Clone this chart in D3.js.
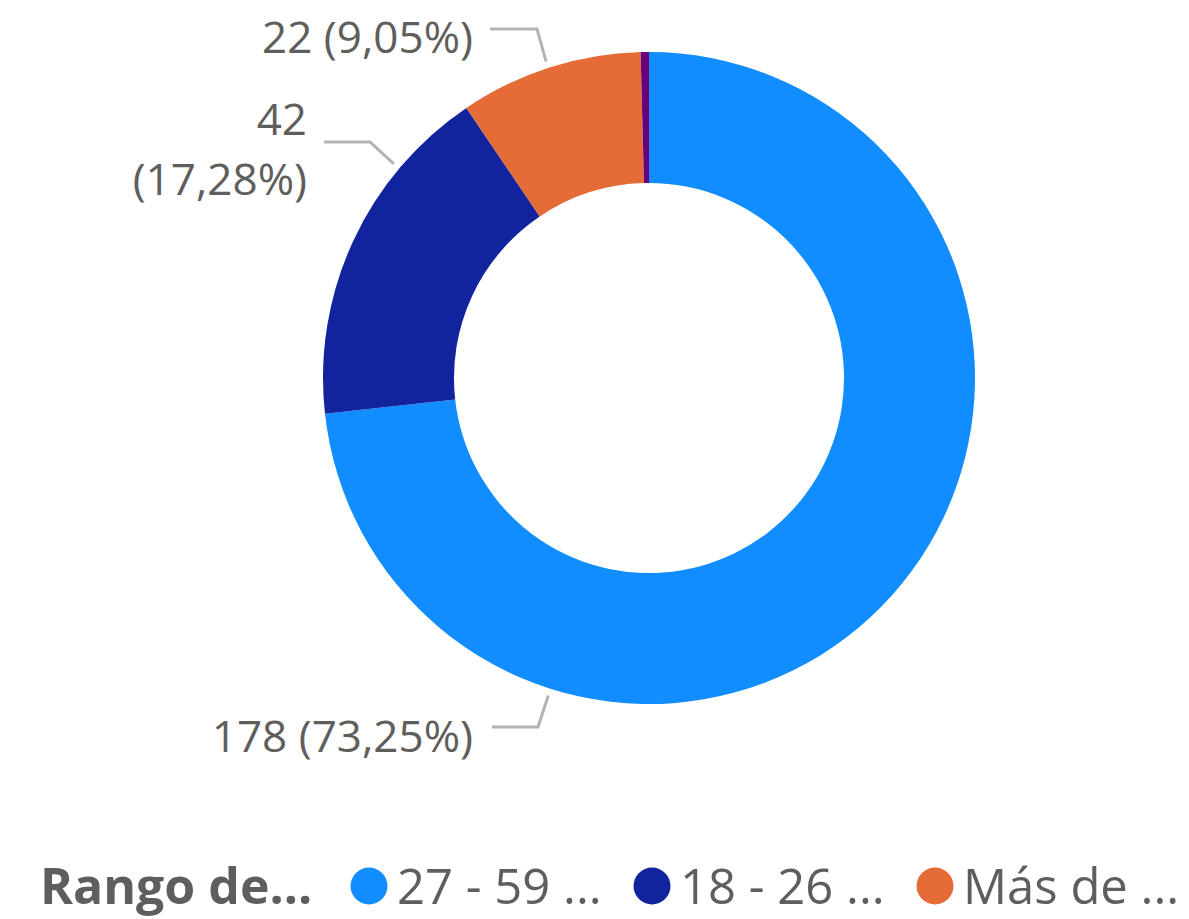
<html>
<head>
<meta charset="utf-8">
<style>
  body { margin: 0; background: #fff; }
  text { font-family: "Open Sans", "Noto Sans", sans-serif; }
</style>
</head>
<body>
<svg width="1189" height="919"></svg>

<script src="https://cdn.jsdelivr.net/npm/d3@7/dist/d3.min.js"></script>
<script type="text/javascript">
// data
const categories = ["27 - 59 ...", "18 - 26 ...", "Más de ...", "Menos de 18"];
const counts = [178, 42, 22, 1];
const colors = ["#118DFF", "#12239E", "#E66C37", "#6B007B"];
const legendTitle = "Rango de...";
const legendShown = [0, 1, 2];

// where each data label goes (layout only)
const labelLayout = [
  {i: 0, angle: 197.6, knee: [538, 727], end: 492, tx: 473, lines: [752], split: false},
  {i: 1, angle: 310, knee: [370, 142], end: 324, tx: 307, lines: [135, 195], split: true},
  {i: 2, angle: 342, knee: [537, 29], end: 490, tx: 473, lines: [53], split: false}
];

const text_color = "#605E5C";
const line_color = "#B3B3B3";

let svg = d3.select("svg");

const cx = 649, cy = 378;
const outerR = 326, innerR = 195;

const locale = d3.formatLocale({decimal: ",", thousands: ".", grouping: [3], currency: ["", "€"]});
const pct = locale.format(".2%");

const total = d3.sum(counts);
const slices = categories.map((c, i) => ({name: c, value: counts[i], color: colors[i]}));

const pie = d3.pie().value(d => d.value).sort(null);
const arcs = pie(slices);
const arc = d3.arc().innerRadius(innerR).outerRadius(outerR);

let donut_g = svg.append("g").attr("transform", "translate(" + cx + "," + cy + ")");

donut_g.selectAll("path.slice")
  .data(arcs)
  .join("path")
  .attr("class", "slice")
  .attr("fill", d => d.data.color)
  .attr("d", arc);

// labels with leader lines
let label_g = svg.append("g");

labelLayout.forEach(l => {
  const d = slices[l.i];
  const tip = d3.pointRadial(l.angle * Math.PI / 180, outerR + 7);
  const pts = [[l.end, l.knee[1]], l.knee, [cx + tip[0], cy + tip[1]]];
  label_g.append("path")
    .attr("d", d3.line()(pts))
    .attr("fill", "none")
    .attr("stroke", line_color)
    .attr("stroke-width", 3);

  const valueText = d.value + "";
  const pctText = "(" + pct(d.value / total) + ")";
  const parts = l.split ? [valueText, pctText] : [valueText + " " + pctText];
  parts.forEach((t, k) => {
    label_g.append("text")
      .attr("x", l.tx)
      .attr("y", l.lines[k])
      .attr("text-anchor", "end")
      .attr("font-size", 44)
      .attr("fill", text_color)
      .text(t);
  });
});

// legend
let legend_g = svg.append("g");
legend_g.append("text")
  .attr("x", 40)
  .attr("y", 904)
  .attr("font-size", 50)
  .attr("font-weight", "bold")
  .attr("fill", text_color)
  .text(legendTitle);

const legendX = [369, 652, 935];
legendShown.forEach((i, k) => {
  legend_g.append("circle")
    .attr("cx", legendX[k])
    .attr("cy", 886)
    .attr("r", 18.5)
    .attr("fill", colors[i]);
  legend_g.append("text")
    .attr("x", legendX[k] + 28)
    .attr("y", 904)
    .attr("font-size", 49)
    .attr("fill", text_color)
    .text(categories[i]);
});
</script>
</body>
</html>
